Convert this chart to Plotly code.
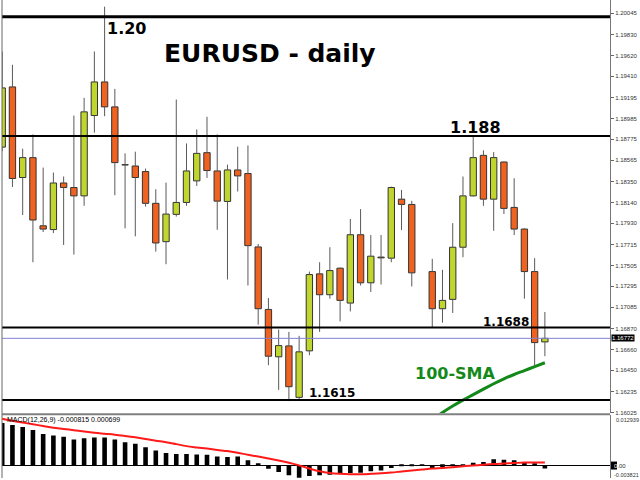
import plotly.graph_objects as go

# ---------------- data ----------------
slots = list(range(54))  # daily candles; slot 41 has no candle drawn
opens = [1.18697, 1.19303, 1.18391, 1.18591, 1.17905, 1.17867, 1.18336, 1.18290, 1.18206, 1.19015,
         1.19353, 1.19102, 1.18520, 1.18507, 1.18451, 1.18131, 1.17745, 1.18020, 1.18140, 1.18357,
         1.18641, 1.18457, 1.18150, 1.18467, 1.18431, 1.17692, 1.17063, 1.16586, 1.16696, 1.16178,
         1.16646, 1.17421, 1.17211, 1.17478, 1.17127, 1.17815, 1.17331, 1.17590, 1.17579, 1.18173,
         1.18120, None, 1.17444, 1.17070, 1.17164, 1.17689, 1.18206, 1.18614, 1.18173, 1.18547,
         1.18090, 1.17872, 1.17444, 1.16736]
highs = [1.19660, 1.19526, 1.18681, 1.18825, 1.18491, 1.18441, 1.18401, 1.19015, 1.19193, 1.19660,
         1.20111, 1.19283, 1.18634, 1.18651, 1.18481, 1.18273, 1.18340, 1.19176, 1.18734, 1.18875,
         1.19002, 1.18825, 1.18521, 1.18701, 1.18714, 1.17722, 1.17178, 1.16860, 1.16837, 1.16797,
         1.17444, 1.17538, 1.17689, 1.17486, 1.17973, 1.18073, 1.17812, 1.17812, 1.18300, 1.18266,
         1.18156, None, 1.17572, 1.17461, 1.17932, 1.18401, 1.18802, 1.18664, 1.18647, 1.18550,
         1.18384, 1.17880, 1.17579, 1.17037]
lows = [1.18657, 1.18296, 1.18013, 1.17538, 1.17842, 1.17832, 1.17712, 1.17615, 1.18106, 1.18842,
        1.19008, 1.18213, 1.17879, 1.17799, 1.18098, 1.17645, 1.17518, 1.17998, 1.18106, 1.18306,
        1.18387, 1.17865, 1.17364, 1.18250, 1.17304, 1.16910, 1.16502, 1.16253, 1.16140, 1.16158,
        1.16602, 1.16837, 1.17171, 1.16943, 1.17043, 1.17304, 1.17238, 1.17314, 1.17538, 1.17862,
        1.17294, None, 1.16885, 1.16930, 1.17027, 1.17589, 1.18200, 1.18106, 1.17855, 1.18023,
        1.17812, 1.17171, 1.16502, 1.16592]
closes = [1.19293, 1.18381, 1.18591, 1.17963, 1.17872, 1.18336, 1.18290, 1.18206, 1.19052, 1.19353,
          1.19102, 1.18541, 1.18517, 1.18391, 1.18131, 1.17732, 1.18023, 1.18140, 1.18457, 1.18634,
          1.18461, 1.18153, 1.18467, 1.18407, 1.17705, 1.17070, 1.16592, 1.16699, 1.16285, 1.16636,
          1.17414, 1.17211, 1.17454, 1.17154, 1.17815, 1.17331, 1.17599, 1.17582, 1.18290, 1.18120,
          1.17431, None, 1.17070, 1.17154, 1.17689, 1.18206, 1.18591, 1.18173, 1.18591, 1.18080,
          1.17872, 1.17444, 1.16729, 1.16772]

sma_slots = list(range(42, 54))
sma100 = [1.15955, 1.16025, 1.16090, 1.16150, 1.16205, 1.16260, 1.16315, 1.16365, 1.16408, 1.16447,
          1.16487, 1.16526]

macd_main = [0.01096, 0.01044, 0.00993, 0.00915, 0.00812, 0.00771, 0.00735, 0.00668, 0.00701, 0.00719,
             0.00719, 0.00668, 0.00598, 0.00554, 0.00469, 0.00384, 0.00315, 0.00289, 0.00289, 0.00276,
             0.00271, 0.00229, 0.00211, 0.00229, 0.00126, 0.00039, -0.00090, -0.00175, -0.00260, -0.00322,
             -0.00278, -0.00260, -0.00245, -0.00219, -0.00201, -0.00193, -0.00157, -0.00137, -0.00072, -0.00020,
             -0.00010, 0.00010, -0.00072, -0.00046, -0.00010, 0.00020, 0.00064, 0.00082, 0.00152, 0.00142,
             0.00126, 0.00064, 0.00030, -0.000815]
macd_signal = [0.01204, 0.01152, 0.01106, 0.01062, 0.01016, 0.00972, 0.00941, 0.00907, 0.00874, 0.00843,
               0.00817, 0.00791, 0.00758, 0.00722, 0.00681, 0.00637, 0.00598, 0.00547, 0.00495, 0.00461,
               0.00431, 0.00397, 0.00366, 0.00322, 0.00271, 0.00224, 0.00173, 0.00121, 0.00064, -0.00003,
               -0.00085, -0.00157, -0.00201, -0.00222, -0.00232, -0.00232, -0.00222, -0.00209, -0.00188, -0.00162,
               -0.00137, -0.00111, -0.00085, -0.00072, -0.00054, -0.00028, -0.00008, 0.00013, 0.00031, 0.00044,
               0.00057, 0.00070, 0.00074, 0.000699]

price_ticks = [1.20045, 1.19830, 1.19620, 1.19410, 1.19195, 1.18985, 1.18775, 1.18565, 1.18350, 1.18140,
               1.17930, 1.17715, 1.17505, 1.17295, 1.17085, 1.16870, 1.16660, 1.16450, 1.16235, 1.16025]
price_tick_text = ["%.5f" % v for v in price_ticks]

levels = [1.2001, 1.18808, 1.16880, 1.16151]
level_labels = ["1.20", "1.188", "1.1688", "1.1615"]
current_price = 1.16772
macd_top, macd_bottom = 0.012939, -0.003821

# ---------------- styling helpers ----------------
W, H = 640, 480
L_M, R_M = 2, 30
PW = W - L_M - R_M
def xp(px):
    return (px - L_M) / PW
def yp(py):
    return 1 - py / H

GREEN = "#c0d52e"
ORANGE = "#f0621f"
EDGE = "#333333"
WICK = "#5a5a5a"

fig = go.Figure()

# wicks (drawn as segments outside the bodies)
wx, wy = [], []
for i, o, h, l, c in zip(slots, opens, highs, lows, closes):
    if o is None:
        continue
    top, bot = max(o, c), min(o, c)
    wx += [i, i, None, i, i, None]
    wy += [top, h, None, l, bot, None]
fig.add_trace(go.Scatter(x=wx, y=wy, mode="lines", line=dict(color=WICK, width=1),
                         hoverinfo="skip", xaxis="x", yaxis="y"))

for bull, col in [(True, GREEN), (False, ORANGE)]:
    bx, base, hgt = [], [], []
    for i, o, c in zip(slots, opens, closes):
        if o is None:
            continue
        if (c >= o) == bull:
            bx.append(i)
            base.append(min(o, c))
            hgt.append(abs(c - o))
    fig.add_trace(go.Bar(x=bx, y=hgt, base=base, width=0.62, marker=dict(color=col, line=dict(color=EDGE, width=1)),
                         hoverinfo="skip", xaxis="x", yaxis="y"))

# 100-SMA
fig.add_trace(go.Scatter(x=sma_slots, y=sma100, mode="lines", line=dict(color="#13891a", width=3, shape="spline"),
                         hoverinfo="skip", xaxis="x", yaxis="y"))

# MACD
fig.add_trace(go.Bar(x=slots, y=macd_main, width=0.45, marker=dict(color="black", line=dict(width=0)),
                     hoverinfo="skip", xaxis="x2", yaxis="y2"))
fig.add_trace(go.Scatter(x=slots, y=macd_signal, mode="lines", line=dict(color="#ff1a1a", width=2, shape="spline"),
                         hoverinfo="skip", xaxis="x2", yaxis="y2"))

shapes = []
for lv, lw in zip(levels, [3, 2, 2, 2]):
    shapes.append(dict(type="line", xref="paper", x0=0, x1=1, yref="y", y0=lv, y1=lv,
                       line=dict(color="black", width=lw)))
shapes.append(dict(type="line", xref="paper", x0=0, x1=1, yref="y", y0=current_price, y1=current_price,
                   line=dict(color="#8080d8", width=1)))
# panel separator and left border
shapes.append(dict(type="rect", xref="paper", x0=0, x1=1, yref="paper", y0=yp(417), y1=yp(415),
                   fillcolor="#808080", line=dict(width=0)))
shapes.append(dict(type="line", xref="paper", x0=0, x1=0, yref="paper", y0=0, y1=1,
                   line=dict(color="#666666", width=1)))
# black marker box on the MACD zero label
shapes.append(dict(type="rect", xref="paper", x0=xp(611), x1=xp(617), yref="paper", y0=yp(471.5), y1=yp(463.5),
                   fillcolor="black", line=dict(width=0)))

TFONT = "DejaVu Sans"
ann = []
ann.append(dict(text="<b>EURUSD - daily</b>", x=xp(162), y=yp(54), xanchor="left", yanchor="middle",
                font=dict(family=TFONT, size=25, color="black")))
label_pos = [(105, 29, 16), (448.3, 128, 16), (481, 323, 12), (306.7, 394.5, 12)]
for txt, (lx, ly, fs) in zip(level_labels, label_pos):
    ann.append(dict(text="<b>%s</b>" % txt, x=xp(lx), y=yp(ly), xanchor="left", yanchor="middle",
                    font=dict(family=TFONT, size=fs, color="black")))
ann.append(dict(text="<b>100-SMA</b>", x=xp(413.3), y=yp(375), xanchor="left", yanchor="middle",
                font=dict(family=TFONT, size=16, color="#13891a")))
ann.append(dict(text="MACD(12,26,9) %.6f %.6f" % (macd_main[-1], macd_signal[-1]), x=xp(4.5), y=yp(421.5),
                xanchor="left", yanchor="middle", font=dict(family="Liberation Sans", size=7, color="black")))
# current price box
ann.append(dict(text="%.5f" % current_price, xref="paper", x=xp(611), yref="y", y=current_price,
                xanchor="left", yanchor="middle", bgcolor="black", borderpad=0,
                font=dict(family="Liberation Sans", size=6, color="white")))
# MACD scale labels
ann.append(dict(text="%.6f" % macd_top, x=xp(614), y=yp(421.7), xanchor="left", yanchor="middle",
                font=dict(family="Liberation Sans", size=5.5, color="#333")))
ann.append(dict(text="<span style='color:white'>0</span>.00", x=xp(611.5), y=yp(467.5), xanchor="left",
                yanchor="middle", font=dict(family="Liberation Sans", size=6, color="#333")))
ann.append(dict(text="%.6f" % macd_bottom, x=xp(612.5), y=yp(476.5), xanchor="left", yanchor="middle",
                font=dict(family="Liberation Sans", size=5.5, color="#333")))
for a in ann:
    a.setdefault("xref", "paper")
    a.setdefault("yref", "paper")
    a["showarrow"] = False

x_range = [-0.02, 59.36]
fig.update_layout(
    width=W, height=H, margin=dict(l=L_M, r=R_M, t=0, b=0),
    paper_bgcolor="white", plot_bgcolor="white", showlegend=False, barmode="overlay",
    xaxis=dict(domain=[0, 1], range=x_range, anchor="y", showticklabels=False, showgrid=False,
               zeroline=False, ticks=""),
    xaxis2=dict(domain=[0, 1], range=x_range, anchor="y2", visible=False),
    yaxis=dict(domain=[65 / H, 1], range=[1.160176, 1.20178], side="right", tickmode="array",
               tickvals=price_ticks, ticktext=price_tick_text, ticks="outside", ticklen=3, tickcolor="#666",
               showline=True, linecolor="#777", linewidth=1, showgrid=False, zeroline=False,
               tickfont=dict(family="Liberation Sans", size=6, color="#333")),
    yaxis2=dict(domain=[0, 63 / H], range=[-0.003302, macd_top], side="right", showticklabels=False,
                ticks="", showline=True, linecolor="#777", linewidth=1, showgrid=False,
                zeroline=True, zerolinecolor="black", zerolinewidth=1),
    shapes=shapes, annotations=ann,
)

fig.write_html("out.html", config={"displayModeBar": False},
               post_script="document.body.style.margin='0';document.body.style.overflow='hidden';")
